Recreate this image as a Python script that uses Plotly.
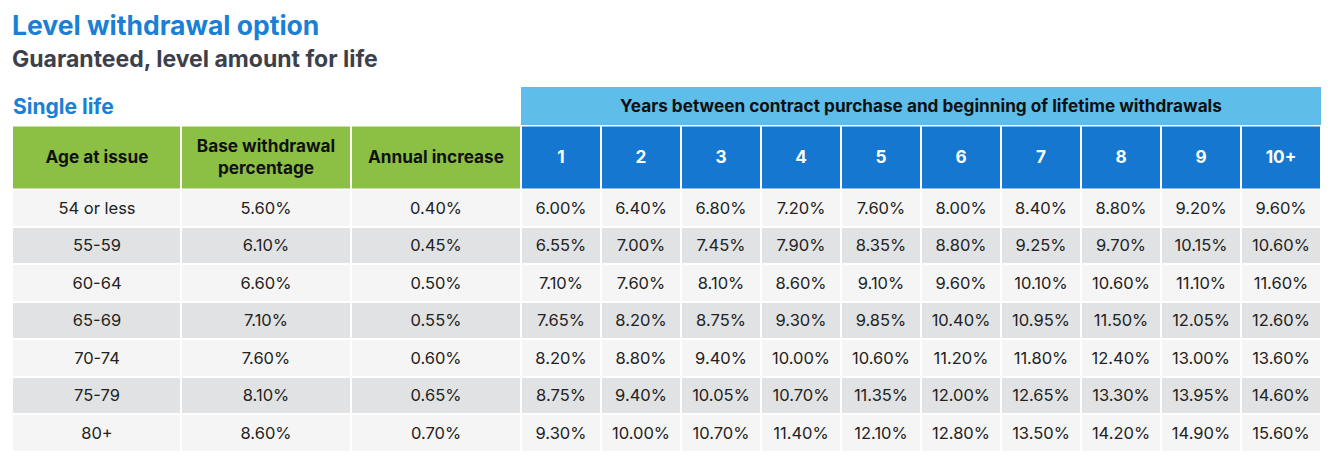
import plotly.graph_objects as go

# table data
ages = ["54 or less", "55-59", "60-64", "65-69", "70-74", "75-79", "80+"]
base_pct = ["5.60%", "6.10%", "6.60%", "7.10%", "7.60%", "8.10%", "8.60%"]
annual_inc = ["0.40%", "0.45%", "0.50%", "0.55%", "0.60%", "0.65%", "0.70%"]
years = ["1", "2", "3", "4", "5", "6", "7", "8", "9", "10+"]
yr_1 = ["6.00%", "6.55%", "7.10%", "7.65%", "8.20%", "8.75%", "9.30%"]
yr_2 = ["6.40%", "7.00%", "7.60%", "8.20%", "8.80%", "9.40%", "10.00%"]
yr_3 = ["6.80%", "7.45%", "8.10%", "8.75%", "9.40%", "10.05%", "10.70%"]
yr_4 = ["7.20%", "7.90%", "8.60%", "9.30%", "10.00%", "10.70%", "11.40%"]
yr_5 = ["7.60%", "8.35%", "9.10%", "9.85%", "10.60%", "11.35%", "12.10%"]
yr_6 = ["8.00%", "8.80%", "9.60%", "10.40%", "11.20%", "12.00%", "12.80%"]
yr_7 = ["8.40%", "9.25%", "10.10%", "10.95%", "11.80%", "12.65%", "13.50%"]
yr_8 = ["8.80%", "9.70%", "10.60%", "11.50%", "12.40%", "13.30%", "14.20%"]
yr_9 = ["9.20%", "10.15%", "11.10%", "12.05%", "13.00%", "13.95%", "14.90%"]
yr_10 = ["9.60%", "10.60%", "11.60%", "12.60%", "13.60%", "14.60%", "15.60%"]
left_heads = ["Age at issue", "Base withdrawal<br>percentage", "Annual increase"]
span_head = "Years between contract purchase and beginning of lifetime withdrawals"

W, H = 1338, 466
OFF = 8  # page body margin, axes below work in page pixels
FONT = "Inter"
BLUE_T = "#1a80d6"
GREEN = "#8cc044"
BLUE = "#1677d0"
LIGHT_BLUE = "#5ebde9"
ROW_A = "#f5f5f5"
ROW_B = "#e1e2e4"

# layout of the grid (page pixels)
col_w = [169, 170, 170] + [80] * len(years)
row_h = 37.5
x_start = 12
span_top, head_top, body_top = 86, 125.5, 189

col_edges = [x_start]
for w in col_w:
    col_edges.append(col_edges[-1] + w)
row_edges = [body_top + i * row_h for i in range(len(ages) + 1)]

cols = [ages, base_pct, annual_inc, yr_1, yr_2, yr_3, yr_4, yr_5, yr_6, yr_7, yr_8, yr_9, yr_10]
body_text = [[c[r] for c in cols] for r in range(len(ages))]
body_z = [[r % 2] * len(cols) for r in range(len(ages))]


def flat(color):
    return [[0, color], [1, color]]


fig = go.Figure()

# body rows
fig.add_trace(go.Heatmap(
    x=col_edges, y=row_edges, z=body_z, text=body_text,
    texttemplate="%{text}", textfont=dict(family=FONT, size=16.5, color="#222222"),
    colorscale=[[0, ROW_A], [0.5, ROW_A], [0.5, ROW_B], [1, ROW_B]],
    zmin=0, zmax=1, showscale=False, xgap=2, ygap=2, hoverinfo="skip",
))

# green header cells
fig.add_trace(go.Heatmap(
    x=col_edges[:4], y=[head_top, body_top], z=[[0] * 3],
    text=[["<b>" + h + "</b>" for h in left_heads]],
    texttemplate="%{text}", textfont=dict(family=FONT, size=17.2, color="#111111"),
    colorscale=flat(GREEN), showscale=False, xgap=2, ygap=2, hoverinfo="skip",
))

# blue year header cells
fig.add_trace(go.Heatmap(
    x=col_edges[3:], y=[head_top, body_top], z=[[0] * len(years)],
    text=[["<b>" + y + "</b>" for y in years]],
    texttemplate="%{text}", textfont=dict(family=FONT, size=17.2, color="white"),
    colorscale=flat(BLUE), showscale=False, xgap=2, ygap=2, hoverinfo="skip",
))

# spanning header above the year columns
fig.add_trace(go.Heatmap(
    x=[col_edges[3], col_edges[-1]], y=[span_top, head_top], z=[[0]],
    text=[["<b>" + span_head + "</b>"]],
    texttemplate="%{text}", textfont=dict(family=FONT, size=17.2, color="#111111"),
    colorscale=flat(LIGHT_BLUE), showscale=False, ygap=2, hoverinfo="skip",
))

fig.add_annotation(text="<b>Level withdrawal option</b>", x=2 / W, y=1 - 17 / H,
                   xref="paper", yref="paper", xanchor="left", yanchor="middle",
                   showarrow=False, font=dict(family=FONT, size=26.5, color=BLUE_T))
fig.add_annotation(text="<b>Guaranteed, level amount for life</b>", x=2 / W, y=1 - 51 / H,
                   xref="paper", yref="paper", xanchor="left", yanchor="middle",
                   showarrow=False, font=dict(family=FONT, size=23, color="#3d3f4a"))
fig.add_annotation(text="<b>Single life</b>", x=3 / W, y=1 - 99 / H,
                   xref="paper", yref="paper", xanchor="left", yanchor="middle",
                   showarrow=False, font=dict(family=FONT, size=21, color=BLUE_T))

fig.update_xaxes(range=[OFF, OFF + W], visible=False, fixedrange=True)
fig.update_yaxes(range=[OFF + H, OFF], visible=False, fixedrange=True)
fig.update_layout(
    width=W, height=H,
    margin=dict(l=0, r=0, t=0, b=0),
    paper_bgcolor="white",
    plot_bgcolor="white",
)

fig.write_html("out.html")
